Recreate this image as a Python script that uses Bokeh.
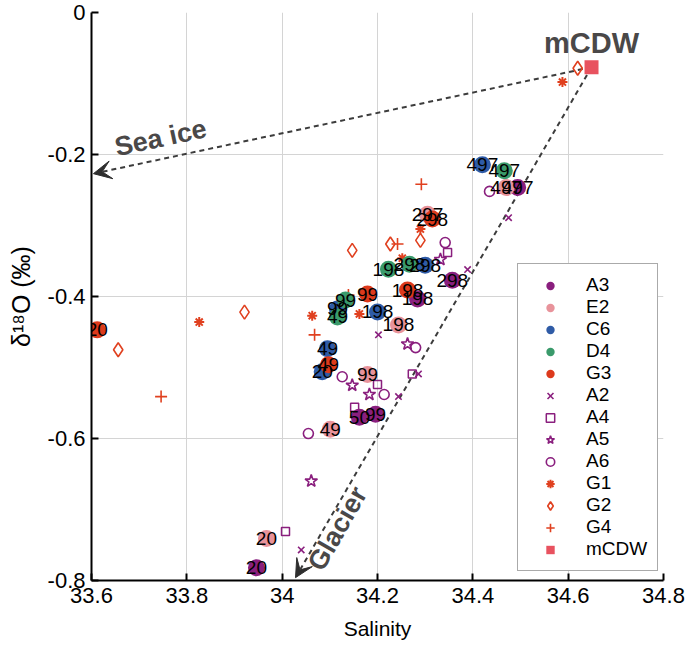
from bokeh.plotting import figure
from bokeh.models import (Range1d, FixedTicker, Legend, LegendItem, Arrow, VeeHead,
                          Label, ColumnDataSource)
from bokeh.core.properties import value
from bokeh.embed import file_html
from bokeh.resources import INLINE

# ---------------- data ----------------
# filled-circle stations (labels are sample depths)
A3_sal = [33.946, 34.162, 34.196, 34.284, 34.357, 34.494]
A3_d18o = [-0.782, -0.570, -0.566, -0.4035, -0.377, -0.2466]
A3_lab = ["20", "50", "99", "198", "298", "497"]

E2_sal = [33.967, 34.101, 34.179, 34.244, 34.305, 34.470]
E2_d18o = [-0.741, -0.587, -0.510, -0.440, -0.284, -0.2466]
E2_lab = ["20", "49", "99", "198", "297", "497"]

C6_sal = [34.084, 34.095, 34.116, 34.200, 34.300, 34.420]
C6_d18o = [-0.506, -0.4736, -0.4175, -0.4217, -0.356, -0.2144]
C6_lab = ["20", "49", "99", "198", "298", "497"]

D4_sal = [34.116, 34.133, 34.223, 34.267, 34.466]
D4_d18o = [-0.4287, -0.405, -0.3615, -0.3545, -0.2228]
D4_lab = ["49", "99", "198", "298", "497"]

G3_sal = [33.612, 34.097, 34.179, 34.263, 34.315]
G3_d18o = [-0.447, -0.496, -0.3965, -0.391, -0.291]
G3_lab = ["20", "49", "99", "198", "298"]

# other stations
A2_sal = [34.040, 34.244, 34.286, 34.202, 34.389, 34.475]
A2_d18o = [-0.757, -0.541, -0.509, -0.454, -0.362, -0.289]
A4_sal = [34.007, 34.152, 34.200, 34.273, 34.347, 34.462]
A4_d18o = [-0.731, -0.556, -0.524, -0.509, -0.338, -0.249]
A5_sal = [34.061, 34.147, 34.183, 34.263, 34.332]
A5_d18o = [-0.660, -0.525, -0.538, -0.467, -0.348]
A6_sal = [34.055, 34.126, 34.214, 34.280, 34.342, 34.435]
A6_d18o = [-0.593, -0.513, -0.538, -0.472, -0.324, -0.252]
G1_sal = [33.826, 34.063, 34.162, 34.252, 34.290, 34.588]
G1_d18o = [-0.436, -0.427, -0.4245, -0.346, -0.305, -0.098]
G2_sal = [33.656, 33.921, 34.147, 34.227, 34.290, 34.620]
G2_d18o = [-0.475, -0.422, -0.335, -0.326, -0.321, -0.0785]
G4_sal = [33.746, 34.068, 34.139, 34.242, 34.292]
G4_d18o = [-0.541, -0.454, -0.398, -0.326, -0.242]

mCDW_sal = [34.649]
mCDW_d18o = [-0.077]

# mixing-line end points (sea ice, glacier)
seaice_end = [33.604, -0.227]
glacier_end = [34.028, -0.796]

x_ticks = [33.6, 33.8, 34.0, 34.2, 34.4, 34.6, 34.8]
x_tick_labels = ["33.6", "33.8", "34", "34.2", "34.4", "34.6", "34.8"]
y_ticks = [0.0, -0.2, -0.4, -0.6, -0.8]
y_tick_labels = ["0", "-0.2", "-0.4", "-0.6", "-0.8"]

# ---------------- style ----------------
FONT = "Liberation Sans"
PURPLE = "#8a1f7e"
PINK = "#e8939b"
BLUE = "#2f5ba6"
GREEN = "#3a9a6b"
RED = "#dd3a1c"
ORANGE_RED = "#e0401f"
MCDW_C = "#e8525f"
ANN = "#4a4848"

p = figure(width=685, height=645, output_backend="svg", toolbar_location=None,
           x_range=Range1d(33.6, 34.8), y_range=Range1d(-0.8, 0.0),
           min_border_left=91, min_border_right=22, min_border_top=12, min_border_bottom=65)
p.outline_line_color = None
p.background_fill_color = "white"

for ax, ticks, labs in ((p.xaxis[0], x_ticks, x_tick_labels), (p.yaxis[0], y_ticks, y_tick_labels)):
    ax.ticker = FixedTicker(ticks=ticks)
    ax.major_label_overrides = {t: l for t, l in zip(ticks, labs)}
    ax.minor_tick_line_color = None
    ax.major_tick_in = 7
    ax.major_tick_out = 0
    ax.major_tick_line_width = 2
    ax.axis_line_width = 2
    ax.axis_line_color = "black"
    ax.major_tick_line_color = "black"
    ax.major_label_text_font = FONT
    ax.major_label_text_font_size = "22px"
    ax.major_label_text_color = "black"
    ax.axis_label_text_font = FONT
    ax.axis_label_text_font_style = "normal"
    ax.axis_label_text_font_size = "21px"
    ax.axis_label_text_color = "black"

p.xaxis.axis_label = "Salinity"
p.yaxis.axis_label = "δ¹⁸O (‰)"
p.yaxis.axis_label_text_font_size = "25px"
p.xaxis.major_label_standoff = 7
p.yaxis.major_label_standoff = 6
p.xaxis.axis_label_standoff = 11
p.yaxis.axis_label_standoff = 10

for g in (p.xgrid[0], p.ygrid[0]):
    g.grid_line_color = "#d4d4d4"
    g.grid_line_width = 1
p.xgrid.ticker = FixedTicker(ticks=x_ticks)
p.ygrid.ticker = FixedTicker(ticks=y_ticks)

# ---------------- arrows ----------------
for end in (seaice_end, glacier_end):
    p.add_layout(Arrow(end=VeeHead(size=18, fill_color="#2e2e2e", line_color="#2e2e2e", line_width=1),
                       x_start=mCDW_sal[0], y_start=mCDW_d18o[0], x_end=end[0], y_end=end[1],
                       line_color="#3c3c3c", line_width=2, line_dash="5 4", level="underlay"))

items = []

def add_sc(name, xs, ys, marker, color, size, fill=True, lw=1.5):
    r = p.scatter(xs, ys, marker=marker, size=size,
                  fill_color=color if fill else None,
                  line_color=None if fill else color,
                  line_width=lw)
    items.append(LegendItem(label=name, renderers=[r]))
    return r

filled = [("A3", A3_sal, A3_d18o, A3_lab, PURPLE), ("E2", E2_sal, E2_d18o, E2_lab, PINK),
          ("C6", C6_sal, C6_d18o, C6_lab, BLUE), ("D4", D4_sal, D4_d18o, D4_lab, GREEN),
          ("G3", G3_sal, G3_d18o, G3_lab, RED)]

add_sc("A2", A2_sal, A2_d18o, "x", PURPLE, 9, fill=False, lw=1.6)
add_sc("A4", A4_sal, A4_d18o, "square", PURPLE, 8, fill=False, lw=1.5)
add_sc("A5", A5_sal, A5_d18o, "star", PURPLE, 13, fill=False, lw=1.6)
add_sc("A6", A6_sal, A6_d18o, "circle", PURPLE, 10, fill=False, lw=1.6)
add_sc("G1", G1_sal, G1_d18o, "asterisk", ORANGE_RED, 10, fill=False, lw=2)
add_sc("G2", G2_sal, G2_d18o, "diamond", ORANGE_RED, 14, fill=False, lw=1.6)
add_sc("G4", G4_sal, G4_d18o, "cross", ORANGE_RED, 12, fill=False, lw=1.6)
other_items = items[:]
items.clear()

for name, xs, ys, labs, col in filled:
    add_sc(name, xs, ys, "circle", col, 17, fill=True)
filled_items = items[:]
items.clear()

add_sc("mCDW", mCDW_sal, mCDW_d18o, "square", MCDW_C, 14, fill=True)
mcdw_item = items[:]

# depth labels on top of markers
for name, xs, ys, labs, col in filled:
    src = ColumnDataSource(dict(x=xs, y=ys, t=labs))
    p.text(x="x", y="y", text="t", source=src, text_align="center", text_baseline="middle",
           text_font=value(FONT), text_font_size="19px", text_color="black")

# annotation texts
p.add_layout(Label(x=mCDW_sal[0], y=mCDW_d18o[0], text="mCDW", text_font=FONT,
                   text_font_size="29px", text_font_style="bold", text_color=ANN,
                   text_align="center", text_baseline="bottom", y_offset=8))
p.add_layout(Label(x=33.745, y=-0.1765, text="Sea ice", text_font=FONT, angle=0.21,
                   text_font_size="27px", text_font_style="bold", text_color=ANN,
                   text_align="center", text_baseline="middle"))
p.add_layout(Label(x=34.116, y=-0.727, text="Glacier", text_font=FONT, angle=1.05,
                   text_font_size="27px", text_font_style="bold", text_color=ANN,
                   text_align="center", text_baseline="middle"))

legend = Legend(items=filled_items + other_items + mcdw_item, location=(426, 9),
                label_text_font=FONT, label_text_font_size="19px", label_text_color="black",
                glyph_width=44, glyph_height=21, label_height=21, label_width=54,
                label_standoff=14, spacing=0, padding=10, margin=0,
                border_line_color="#555555", border_line_width=1,
                background_fill_color="white", background_fill_alpha=1.0)
p.add_layout(legend)

open("out.html", "w").write(file_html(p, INLINE))
